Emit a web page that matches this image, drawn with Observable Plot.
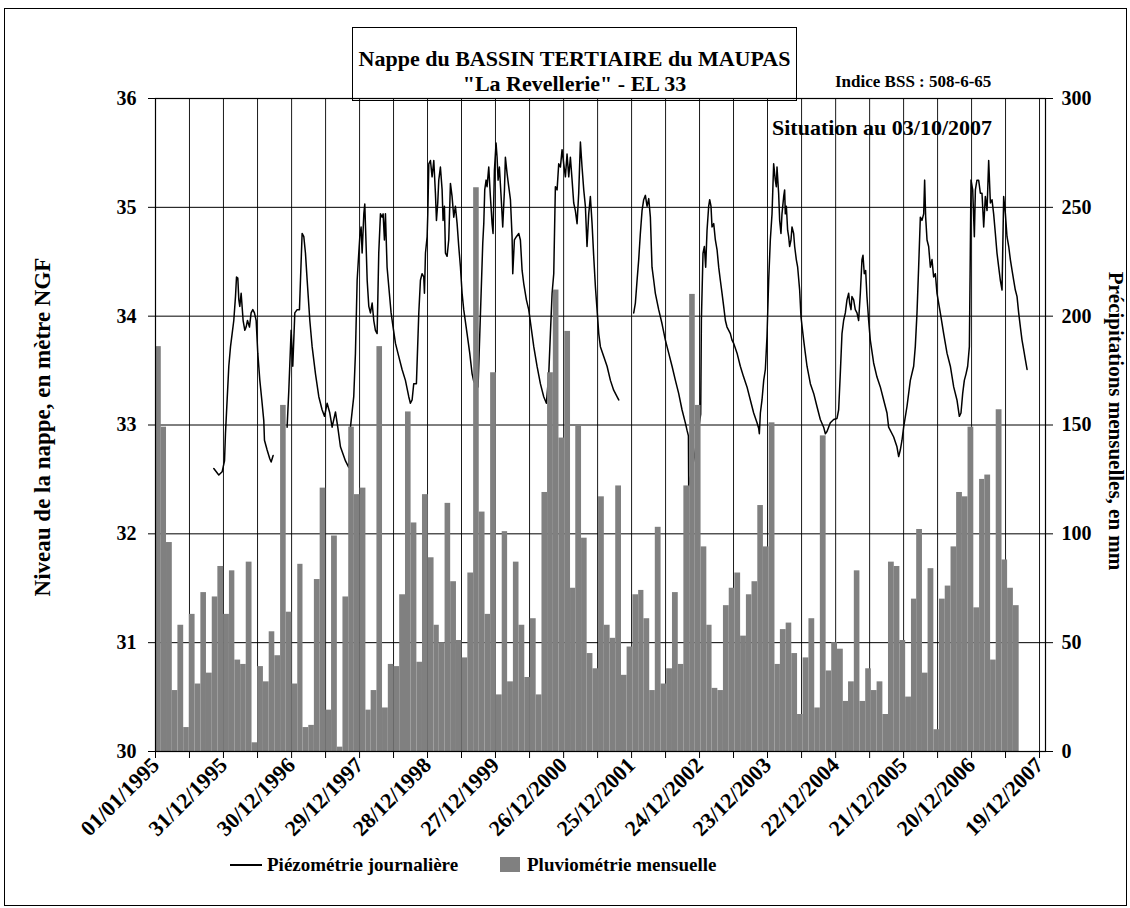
<!DOCTYPE html>
<html><head><meta charset="utf-8">
<script src="https://cdn.jsdelivr.net/npm/d3@7"></script>
<script src="https://cdn.jsdelivr.net/npm/@observablehq/plot@0.6"></script>
<style>
body{margin:0;background:#fff;}
#wrap{position:relative;width:1130px;height:908px;font-family:"Liberation Serif","Times New Roman",serif;font-weight:bold;color:#000;overflow:hidden;}
.abs{position:absolute;white-space:nowrap;line-height:1;}
</style></head><body>
<div id="wrap">
<div id="chart"></div>
<div class="abs" style="left:4px;top:8px;width:1121px;height:896px;border:1px solid #000;"></div>
<div class="abs" style="left:352px;top:27px;width:443px;height:72px;border:1px solid #000;"></div>
<div class="abs" id="t1" style="left:352px;width:445px;top:48px;text-align:center;font-size:22px;"></div>
<div class="abs" id="t2" style="left:352px;width:445px;top:73px;text-align:center;font-size:22px;"></div>
<div class="abs" id="bss" style="left:835px;top:73px;font-size:17px;"></div>
<div class="abs" id="situ" style="left:772px;top:117px;font-size:22px;"></div>
<div class="abs" id="ylab" style="left:42px;top:427px;font-size:23px;transform:translate(-50%,-50%) rotate(-90deg);"></div>
<div class="abs" id="y2lab" style="left:1115px;top:421px;font-size:21px;transform:translate(-50%,-50%) rotate(90deg);"></div>
<div class="abs" style="left:230px;top:864px;width:32px;height:0;border-top:2px solid #000;"></div>
<div class="abs" id="leg1" style="left:267px;top:855px;font-size:19px;"></div>
<div class="abs" style="left:500px;top:857px;width:20px;height:15px;background:#808080;"></div>
<div class="abs" id="leg2" style="left:527px;top:855px;font-size:19px;"></div>
</div>
<script>
// ---- texts ----
const titleLine1 = "Nappe du BASSIN TERTIAIRE du MAUPAS";
const titleLine2 = "\"La Revellerie\" - EL 33";
const bssText = "Indice BSS : 508-6-65";
const situationText = "Situation au 03/10/2007";
const yLeftTitle = "Niveau de la nappe, en mètre NGF";
const yRightTitle = "Précipitations mensuelles, en mm";
const legendLine = "Piézométrie journalière";
const legendBar = "Pluviométrie mensuelle";

// ---- axes ----
const levelTicks = [30, 31, 32, 33, 34, 35, 36];
const xTickLabels = ["01/01/1995","31/12/1995","30/12/1996","29/12/1997","28/12/1998","27/12/1999","26/12/2000","25/12/2001","24/12/2002","23/12/2003","22/12/2004","21/12/2005","20/12/2006","19/12/2007"];
const xDomainEnd = "2008-01-20";

// ---- monthly rainfall (mm), Jan 1995 -> Aug 2007 ----
const rainStart = [1995, 0];
const rain1995 = [186,149,96,28,58,11,63,31,73,36,71,85];
const rain1996 = [63,83,42,40,87,4,39,32,55,44,159,64];
const rain1997 = [31,86,11,12,79,121,19,99,2,71,149,118];
const rain1998 = [121,19,28,186,20,40,39,72,156,105,41,118];
const rain1999 = [89,58,50,114,78,51,43,82,259,110,63,174];
const rain2000 = [26,101,32,87,58,34,61,26,119,174,212,144];
const rain2001 = [193,75,150,98,45,38,117,58,52,122,35,48];
const rain2002 = [72,74,61,28,103,31,38,73,40,122,210,159];
const rain2003 = [94,58,29,28,67,75,82,53,72,78,113,94];
const rain2004 = [151,40,56,59,45,17,43,61,20,145,37,50];
const rain2005 = [47,23,32,83,23,38,28,32,17,87,85,51];
const rain2006 = [25,70,102,36,84,10,70,76,94,119,117,149];
const rain2007 = [66,125,127,42,157,88,75,67];

// ---- daily piezometry (decimal year, m NGF) ----
const piezoSeg1 = [[1995.855,32.60],[1995.928,32.54],[1995.977,32.57],[1996.012,32.67],[1996.026,32.92],[1996.041,33.11],[1996.075,33.54],[1996.100,33.72],[1996.124,33.84],[1996.148,33.96],[1996.173,34.18],[1996.188,34.36],[1996.207,34.35],[1996.222,34.15],[1996.236,34.09],[1996.256,34.21],[1996.285,33.96],[1996.310,33.87],[1996.329,33.90],[1996.349,33.96],[1996.378,33.90],[1996.402,34.03],[1996.427,34.06],[1996.451,34.03],[1996.476,33.96],[1996.500,33.66],[1996.530,33.41],[1996.559,33.23],[1996.588,33.04],[1996.598,32.86],[1996.637,32.77],[1996.676,32.69],[1996.696,32.66],[1996.725,32.72]];
const piezoSeg2 = [[1996.930,32.98],[1996.955,33.32],[1996.989,33.87],[1997.013,33.54],[1997.043,34.03],[1997.077,34.06],[1997.111,34.06],[1997.126,34.33],[1997.150,34.76],[1997.175,34.73],[1997.199,34.58],[1997.224,34.33],[1997.263,33.96],[1997.297,33.72],[1997.346,33.47],[1997.395,33.26],[1997.443,33.14],[1997.478,33.08],[1997.517,33.20],[1997.556,33.11],[1997.590,32.98],[1997.639,33.12],[1997.673,32.98],[1997.712,32.80],[1997.786,32.67],[1997.834,32.61],[1997.859,32.98],[1997.907,33.26],[1997.932,33.66],[1997.957,34.33],[1997.981,34.58],[1997.996,34.73],[1998.015,34.82],[1998.030,34.58],[1998.055,34.94],[1998.069,35.03],[1998.089,34.64],[1998.104,34.33],[1998.128,34.09],[1998.152,34.03],[1998.177,34.12],[1998.201,33.96],[1998.225,33.87],[1998.250,33.84],[1998.274,34.58],[1998.299,34.94],[1998.323,34.91],[1998.338,34.94],[1998.357,34.70],[1998.372,34.94],[1998.396,34.45],[1998.421,34.27],[1998.455,34.03],[1998.484,33.90],[1998.519,33.75],[1998.567,33.63],[1998.616,33.51],[1998.665,33.41],[1998.714,33.26],[1998.738,33.20],[1998.763,33.23],[1998.787,33.38],[1998.826,33.38],[1998.861,34.03],[1998.885,34.33],[1998.909,34.39],[1998.934,34.36],[1998.944,34.21],[1998.959,34.58],[1998.983,34.73],[1998.993,34.94],[1999.008,35.40],[1999.032,35.43],[1999.056,35.28],[1999.081,35.43],[1999.105,35.13],[1999.120,34.88],[1999.139,35.04],[1999.154,35.25],[1999.178,35.37],[1999.203,35.16],[1999.217,34.88],[1999.237,35.01],[1999.252,34.58],[1999.276,34.55],[1999.300,34.70],[1999.325,35.22],[1999.349,35.10],[1999.374,34.91],[1999.398,35.01],[1999.423,34.85],[1999.447,34.64],[1999.472,34.45],[1999.496,34.21],[1999.520,34.06],[1999.569,33.84],[1999.608,33.66],[1999.643,33.47],[1999.667,33.40],[1999.730,33.35],[1999.799,34.67],[1999.814,34.85],[1999.828,35.16],[1999.848,35.25],[1999.862,35.19],[1999.887,35.37],[1999.911,35.10],[1999.936,34.85],[1999.950,34.76],[1999.970,35.34],[1999.994,35.59],[2000.009,35.46],[2000.024,35.25],[2000.043,35.37],[2000.068,35.10],[2000.092,34.82],[2000.117,35.16],[2000.131,35.46],[2000.156,35.31],[2000.180,35.19],[2000.205,35.07],[2000.229,34.73],[2000.239,34.39],[2000.263,34.70],[2000.292,34.73],[2000.327,34.76],[2000.351,34.70],[2000.376,34.42],[2000.400,34.30],[2000.439,34.15],[2000.473,34.06],[2000.508,33.90],[2000.547,33.72],[2000.595,33.54],[2000.644,33.38],[2000.693,33.26],[2000.732,33.20],[2000.752,33.35],[2000.767,33.47],[2000.791,33.84],[2000.816,34.21],[2000.840,34.39],[2000.864,35.19],[2000.889,35.16],[2000.913,35.40],[2000.938,35.37],[2000.962,35.53],[2000.986,35.40],[2001.011,35.28],[2001.035,35.49],[2001.060,35.28],[2001.084,35.46],[2001.109,35.25],[2001.133,35.04],[2001.157,34.97],[2001.182,34.85],[2001.206,35.13],[2001.231,35.60],[2001.255,35.37],[2001.280,35.16],[2001.304,35.01],[2001.328,34.64],[2001.353,34.94],[2001.377,35.10],[2001.402,34.85],[2001.426,34.55],[2001.451,34.27],[2001.475,34.06],[2001.500,33.84],[2001.524,33.72],[2001.573,33.63],[2001.622,33.54],[2001.671,33.41],[2001.719,33.32],[2001.768,33.26],[2001.793,33.23]];
const piezoSeg3 = [[2002.013,34.03],[2002.037,34.12],[2002.062,34.33],[2002.086,34.52],[2002.110,34.76],[2002.135,34.97],[2002.159,35.07],[2002.184,35.11],[2002.208,35.01],[2002.233,35.08],[2002.257,34.91],[2002.281,34.45],[2002.306,34.33],[2002.330,34.21],[2002.379,34.06],[2002.428,33.93],[2002.477,33.78],[2002.526,33.66],[2002.575,33.54],[2002.624,33.41],[2002.672,33.29],[2002.721,33.14],[2002.770,33.02],[2002.795,32.95],[2002.815,32.90],[2002.819,32.44],[2002.900,32.70],[2002.995,33.10],[2003.005,33.96],[2003.029,34.58],[2003.049,34.64],[2003.068,34.45],[2003.088,34.79],[2003.112,35.01],[2003.127,35.07],[2003.146,35.01],[2003.161,34.82],[2003.186,34.85],[2003.210,34.70],[2003.235,34.61],[2003.259,34.45],[2003.283,34.33],[2003.308,34.21],[2003.332,34.09],[2003.357,33.96],[2003.381,33.90],[2003.406,33.87],[2003.430,33.84],[2003.454,33.78],[2003.479,33.75],[2003.528,33.66],[2003.576,33.54],[2003.625,33.44],[2003.674,33.35],[2003.723,33.23],[2003.772,33.11],[2003.821,33.02],[2003.845,32.97],[2003.855,32.92],[2003.870,33.11],[2003.894,33.23],[2003.919,33.41],[2003.943,33.51],[2003.967,33.81],[2003.992,34.33],[2004.016,34.70],[2004.041,34.94],[2004.065,35.40],[2004.089,35.25],[2004.104,35.19],[2004.114,35.37],[2004.138,35.13],[2004.153,34.88],[2004.172,34.76],[2004.187,34.94],[2004.212,35.10],[2004.226,35.16],[2004.236,34.94],[2004.251,35.01],[2004.270,34.79],[2004.285,34.73],[2004.299,34.64],[2004.319,34.70],[2004.334,34.82],[2004.358,34.76],[2004.373,34.64],[2004.397,34.52],[2004.417,34.45],[2004.446,34.24],[2004.466,33.99],[2004.505,33.78],[2004.529,33.66],[2004.554,33.54],[2004.603,33.38],[2004.652,33.29],[2004.700,33.17],[2004.749,33.05],[2004.798,32.98],[2004.823,32.92],[2004.847,32.94],[2004.896,33.02],[2004.945,33.05],[2004.994,33.06],[2005.018,33.14],[2005.042,33.47],[2005.067,33.84],[2005.091,33.96],[2005.116,34.03],[2005.140,34.15],[2005.165,34.21],[2005.179,34.12],[2005.199,34.06],[2005.213,34.18],[2005.238,34.15],[2005.262,34.06],[2005.287,34.03],[2005.311,33.96],[2005.336,34.21],[2005.360,34.52],[2005.375,34.56],[2005.394,34.39],[2005.414,34.42],[2005.433,34.18],[2005.458,33.96],[2005.482,33.78],[2005.531,33.57],[2005.580,33.44],[2005.629,33.35],[2005.678,33.23],[2005.727,33.11],[2005.751,32.98],[2005.825,32.89],[2005.873,32.80],[2005.898,32.71],[2005.922,32.77],[2005.947,32.86],[2005.971,32.98],[2006.020,33.17],[2006.069,33.41],[2006.118,33.54],[2006.142,33.72],[2006.167,34.03],[2006.191,34.45],[2006.216,34.91],[2006.240,34.88],[2006.265,34.94],[2006.279,35.25],[2006.294,34.91],[2006.314,34.70],[2006.338,34.64],[2006.363,34.45],[2006.387,34.52],[2006.411,34.36],[2006.436,34.39],[2006.460,34.21],[2006.509,34.03],[2006.558,33.84],[2006.607,33.66],[2006.656,33.54],[2006.705,33.35],[2006.753,33.23],[2006.788,33.08],[2006.812,33.11],[2006.837,33.29],[2006.861,33.41],[2006.886,33.47],[2006.910,33.54],[2006.935,33.72],[2006.959,35.25],[2006.984,35.16],[2007.008,34.73],[2007.023,35.16],[2007.046,35.25],[2007.071,35.25],[2007.096,35.13],[2007.120,35.13],[2007.145,34.82],[2007.169,35.10],[2007.194,34.97],[2007.218,35.43],[2007.243,35.04],[2007.267,35.07],[2007.291,34.94],[2007.316,34.76],[2007.340,34.58],[2007.365,34.45],[2007.389,34.33],[2007.414,34.24],[2007.438,35.10],[2007.463,34.94],[2007.487,34.73],[2007.512,34.64],[2007.536,34.52],[2007.561,34.42],[2007.585,34.33],[2007.609,34.24],[2007.634,34.18],[2007.658,34.03],[2007.683,33.90],[2007.707,33.78],[2007.732,33.69],[2007.756,33.60],[2007.781,33.51]];

// ---- build tables ----
const DAY = 864e5;
const yearToDate = y => new Date(Date.UTC(1995, 0, 1) + (y - 1995) * 365.25 * DAY);
const parseFR = s => { const [d, m, y] = s.split("/").map(Number); return new Date(Date.UTC(y, m - 1, d)); };

const rainValues = [rain1995, rain1996, rain1997, rain1998, rain1999, rain2000, rain2001, rain2002, rain2003, rain2004, rain2005, rain2006, rain2007].flat();
const rainTable = rainValues.map((mm, i) => ({
  start: new Date(Date.UTC(rainStart[0], rainStart[1] + i, 1)),
  end: new Date(Date.UTC(rainStart[0], rainStart[1] + i + 1, 1)),
  mm
}));
const piezoTable = [piezoSeg1, piezoSeg2, piezoSeg3].flatMap((seg, k) => seg.map(([y, v]) => ({date: yearToDate(y), level: v, seg: k})));

// precipitation (0-300 mm) mapped onto the level scale (30-36 m)
const mmToLevel = mm => 30 + mm / 50;
const levelToMm = l => Math.round((l - 30) * 50);

const labelDates = xTickLabels.map(parseFR);
const tickDates = [];
labelDates.forEach((d, i) => {
  tickDates.push(d);
  if (i < labelDates.length - 1) tickDates.push(new Date((+d + +labelDates[i + 1]) / 2));
});
const labelMap = new Map(labelDates.map((d, i) => [+d, xTickLabels[i]]));

const chart = Plot.plot({
  width: 1130,
  height: 908,
  marginLeft: 155,
  marginRight: 85,
  marginTop: 98,
  marginBottom: 157,
  style: {fontFamily: "'Liberation Serif', 'Times New Roman', serif", fontWeight: "bold", fontSize: "20px", background: "transparent", overflow: "visible"},
  x: {type: "utc", domain: [parseFR(xTickLabels[0]), new Date(xDomainEnd)]},
  y: {domain: [levelTicks[0], levelTicks[levelTicks.length - 1]]},
  marks: [
    Plot.ruleX(tickDates, {stroke: "#000", strokeWidth: 0.9}),
    Plot.ruleY(levelTicks, {stroke: "#000", strokeWidth: 1}),
    Plot.line(piezoTable, {x: "date", y: "level", z: "seg", stroke: "#000", strokeWidth: 1.5, curve: "linear"}),
    Plot.rectY(rainTable, {x1: "start", x2: "end", y1: mmToLevel(0), y2: d => mmToLevel(d.mm), fill: "#808080"}),
    Plot.frame({stroke: "#000", strokeWidth: 1.2}),
    Plot.axisY(levelTicks, {anchor: "left", tickSize: 7, tickPadding: 12, label: null, tickFormat: d => d}),
    Plot.axisY(levelTicks, {anchor: "right", tickSize: 7, tickPadding: 9, label: null, tickFormat: levelToMm}),
    Plot.axisX(tickDates, {anchor: "bottom", tickSize: 7, tickPadding: 3, tickRotate: -45, label: null, fontSize: 22,
      tickFormat: d => labelMap.get(+d) || ""})
  ]
});
document.getElementById("chart").append(chart);

document.getElementById("t1").textContent = titleLine1;
document.getElementById("t2").textContent = titleLine2;
document.getElementById("bss").textContent = bssText;
document.getElementById("situ").textContent = situationText;
document.getElementById("ylab").textContent = yLeftTitle;
document.getElementById("y2lab").textContent = yRightTitle;
document.getElementById("leg1").textContent = legendLine;
document.getElementById("leg2").textContent = legendBar;
</script>
</body></html>
